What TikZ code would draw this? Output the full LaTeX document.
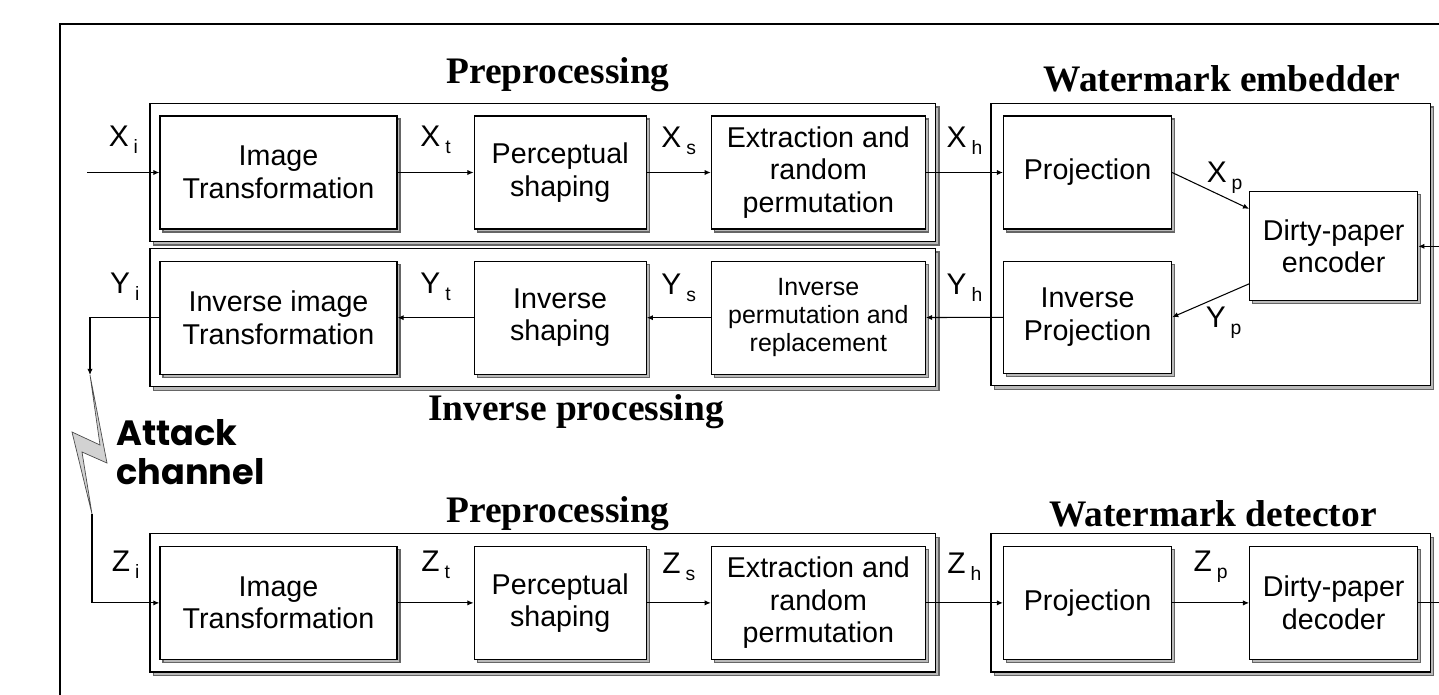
\documentclass[tikz,border=0pt]{standalone}
\usepackage{fontspec}
\setmainfont{Liberation Sans}
\newfontfamily\headfont{Liberation Serif}
\newfontfamily\attackfont{Poppins}
\usetikzlibrary{arrows.meta,positioning,calc,fit,backgrounds,shadows}

\newcommand{\varsub}[2]{#1\,\raisebox{-0.45ex}{\fontsize{11}{11}\selectfont #2}}

\begin{document}
\begin{tikzpicture}[x=0.02cm,y=-0.02cm,>={Latex[length=3.5pt,width=3pt]},
  blk/.style={draw,fill=white,line width=0.7pt,align=center,inner sep=2pt,
    minimum height=2.26cm,font=\fontsize{16.3}{18.5}\selectfont,
    drop shadow={shadow xshift=0.06cm,shadow yshift=-0.06cm,fill=gray!55,draw=black!60,opacity=1}},
  grp/.style={draw,fill=white,line width=0.7pt,inner xsep=0.19cm,inner ysep=0.24cm,
    drop shadow={shadow xshift=0.07cm,shadow yshift=-0.07cm,fill=gray!55,draw=black!60,opacity=1}},
  head/.style={font=\headfont\bfseries\fontsize{21.3}{25}\selectfont,anchor=base},
  lbl/.style={font=\fontsize{17}{20}\selectfont,inner sep=1pt},
  arrow/.style={->,line width=0.6pt}]
\useasboundingbox (0,0) rectangle (1439,694);
% outer frame, cut by the page edge
\draw[line width=1.6pt] (60,720) -- (60,24) -- (1460,24);

% embedding chain
\node[blk,minimum width=4.74cm] (imgt) at (278.5,172.5) {Image\\Transformation};
\node[blk,minimum width=3.44cm,right=1.52cm of imgt] (pshp) {Perceptual\\shaping};
\node[blk,minimum width=4.28cm,right=1.28cm of pshp] (extr) {Extraction and\\random\\permutation};
\node[blk,minimum width=3.36cm,right=1.54cm of extr] (proj) {Projection};

% inverse chain
\node[blk,minimum width=4.74cm,below=0.62cm of imgt] (iimg) {Inverse image\\Transformation};
\node[blk,minimum width=3.44cm,below=0.62cm of pshp] (ishp) {Inverse\\shaping};
\node[blk,minimum width=4.28cm,below=0.62cm of extr,font=\fontsize{14.2}{16}\selectfont] (iprm) {Inverse\\permutation and\\replacement};
\node[blk,minimum width=3.36cm,minimum height=2.24cm,below=0.62cm of proj] (iprj) {Inverse\\Projection};
\coordinate (encmid) at ($(proj.east)!0.5!(iprj.east)$);
\node[blk,minimum width=3.36cm,minimum height=2.18cm,right=1.54cm of encmid,yshift=-0.03cm] (enc) {Dirty-paper\\encoder};

% detection chain
\node[blk,minimum width=4.74cm,below=3.42cm of iimg] (zimg) {Image\\Transformation};
\node[blk,minimum width=3.44cm,right=1.52cm of zimg] (zshp) {Perceptual\\shaping};
\node[blk,minimum width=4.28cm,right=1.28cm of zshp] (zext) {Extraction and\\random\\permutation};
\node[blk,minimum width=3.36cm,right=1.54cm of zext] (zprj) {Projection};
\node[blk,minimum width=3.36cm,right=1.54cm of zprj] (dec) {Dirty-paper\\decoder};

% group frames
\begin{scope}[on background layer]
\node[grp,fit=(imgt)(extr)] (pre1) {};
\node[grp,fit=(iimg)(iprm)] (inv) {};
\node[grp,inner xsep=0.24cm,fit=(proj)(iprj)(enc)] (emb) {};
\node[grp,fit=(zimg)(zext)] (pre2) {};
\node[grp,inner xsep=0.24cm,fit=(zprj)(dec)] (det) {};
\end{scope}

\node[head] (tpre1) at (558,83) {Preprocessing};
\node[head] (temb) at (1222,91) {Watermark embedder};
\node[head] (tinv) at (576,420) {Inverse processing};
\node[head] (tpre2) at (558,522) {Preprocessing};
\node[head] (tdet) at (1213,526) {Watermark detector};

% attack channel
\node[font=\attackfont\bfseries\fontsize{20}{22}\selectfont,align=left,anchor=west] (atk) at (110,452) {Attack\\channel};
\coordinate (btop) at (90,375);
\coordinate (bbot) at (92,514);
\draw[fill=gray!35,draw=gray!60!black,line width=0.4pt] (btop) -- (107,463) -- (82,452) -- (bbot) -- (72,432) -- (100,445) -- cycle;

% embedding connectors
\coordinate (xin) at ($(imgt.west)+(-72,0)$);
\draw[arrow] (xin) -- node[lbl,yshift=0.66cm] (lxi) {\varsub{X}{i}} (imgt);
\draw[arrow] (imgt) -- node[lbl,yshift=0.66cm] (lxt) {\varsub{X}{t}} (pshp);
\draw[arrow] (pshp) -- node[lbl,yshift=0.64cm] (lxs) {\varsub{X}{s}} (extr);
\draw[arrow] (extr) -- node[lbl,yshift=0.64cm] (lxh) {\varsub{X}{h}} (proj);
\draw[arrow] (proj.east) -- node[lbl,xshift=0.28cm,yshift=0.26cm] (lxp) {\varsub{X}{p}} ($(enc.north west)!0.16!(enc.south west)$);
\coordinate (msgin) at ($(enc.east)+(40,0)$);
\draw[arrow] (msgin) -- (enc);

% inverse connectors
\draw[arrow] ($(enc.north west)!0.84!(enc.south west)$) -- node[lbl,xshift=0.26cm,yshift=-0.44cm] (lyp) {\varsub{Y}{p}} (iprj.east);
\draw[arrow] (iprj) -- node[lbl,yshift=0.6cm] (lyh) {\varsub{Y}{h}} (iprm);
\draw[arrow] (iprm) -- node[lbl,yshift=0.6cm] (lys) {\varsub{Y}{s}} (ishp);
\draw[arrow] (ishp) -- node[lbl,yshift=0.62cm] (lyt) {\varsub{Y}{t}} (iimg);
\draw[arrow] (iimg.west) -| node[pos=0.25,lbl,yshift=0.62cm] (lyi) {\varsub{Y}{i}} (btop);

% detection connectors
\draw[arrow] (bbot) |- node[pos=0.75,lbl,yshift=0.76cm] (lzi) {\varsub{Z}{i}} (zimg.west);
\draw[arrow] (zimg) -- node[lbl,yshift=0.76cm] (lzt) {\varsub{Z}{t}} (zshp);
\draw[arrow] (zshp) -- node[lbl,yshift=0.72cm] (lzs) {\varsub{Z}{s}} (zext);
\draw[arrow] (zext) -- node[lbl,yshift=0.72cm] (lzh) {\varsub{Z}{h}} (zprj);
\draw[arrow] (zprj) -- node[lbl,yshift=0.72cm] (lzp) {\varsub{Z}{p}} (dec);
\coordinate (decout) at ($(dec.east)+(40,0)$);
\draw[line width=0.6pt] (dec) -- (decout);
\end{tikzpicture}
\end{document}
